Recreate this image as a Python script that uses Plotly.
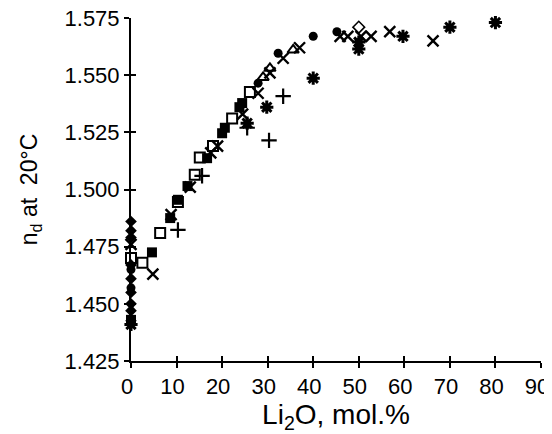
import plotly.graph_objects as go

# ---- data ----
circle_x = [0, 0, 27.9, 32.3, 40, 45.2]
circle_y = [1.465, 1.457, 1.5465, 1.5596, 1.567, 1.569]

fsq_x = [0, 4.6, 8.6, 10.3, 12.4, 16.7, 20.0, 20.6, 23.8, 24.4]
fsq_y = [1.443, 1.4725, 1.4875, 1.4955, 1.5015, 1.5137, 1.5246, 1.527, 1.536, 1.5378]

osq_x = [0, 2.5, 6.4, 10.3, 14.0, 15.1, 18.0, 22.2, 26.1]
osq_y = [1.470, 1.468, 1.481, 1.4945, 1.5065, 1.514, 1.519, 1.531, 1.5426]

x_x = [0, 4.8, 8.8, 13.0, 17.5, 19.0, 24.5, 27.9, 30.5, 33.4, 37.0, 45.9, 47.6, 50.5, 52.7, 56.8, 66.3]
x_y = [1.476, 1.463, 1.489, 1.501, 1.516, 1.519, 1.533, 1.5421, 1.551, 1.5574, 1.562, 1.567, 1.567,
       1.567, 1.567, 1.569, 1.565]

ast_x = [0, 25.5, 29.8, 40, 50, 50, 59.7, 70, 80]
ast_y = [1.441, 1.529, 1.536, 1.5487, 1.5614, 1.5645, 1.567, 1.571, 1.573]

plus_x = [10.3, 15.6, 25.5, 30.3, 33.4]
plus_y = [1.4823, 1.506, 1.527, 1.5215, 1.5408]

tri_x = [29.0, 30.5, 35.6]
tri_y = [1.549, 1.553, 1.561]

dia_x = [0, 0, 0, 0, 0, 0, 0, 0]
dia_y = [1.486, 1.482, 1.479, 1.467, 1.461, 1.455, 1.450, 1.447]

odia_x = [50]
odia_y = [1.571]

x_ticks = [0, 10, 20, 30, 40, 50, 60, 70, 80, 90]
y_ticks = [1.425, 1.450, 1.475, 1.500, 1.525, 1.550, 1.575]

FONT = "Liberation Sans, Arial, sans-serif"
TICK_SIZE = 22
fig = go.Figure()


def add(xs, ys, symbol, size, lw=0):
    fig.add_trace(go.Scatter(
        x=xs, y=ys, mode="markers", cliponaxis=False, showlegend=False,
        marker=dict(symbol=symbol, size=size, color="black",
                    line=dict(color="black", width=lw))))


add(dia_x, dia_y, "diamond", 9)
add(circle_x, circle_y, "circle", 9)
add(fsq_x, fsq_y, "square", 10)
add(osq_x, osq_y, "square-open", 10, 2)
add(x_x, x_y, "x-thin-open", 11, 2.4)
add(ast_x, ast_y, "asterisk-open", 11, 3)
add(ast_x, ast_y, "square", 6)
add(plus_x, plus_y, "cross-thin-open", 11, 2.2)
add(tri_x, tri_y, "triangle-up-open", 10, 2)
add(odia_x, odia_y, "diamond-open", 9, 1.6)

axis_common = dict(showline=True, linecolor="black", linewidth=2, showgrid=False,
                   zeroline=False, ticks="outside", ticklen=5, tickwidth=2,
                   tickcolor="black", ticklabeloverflow="allow",
                   tickfont=dict(family=FONT, size=TICK_SIZE, color="black"))

# the page body has an 8px default margin: the figure starts at (8, 8) in the window
fig.update_layout(
    width=552, height=434, autosize=False,
    margin=dict(l=123, r=19, t=10, b=81, autoexpand=False),
    paper_bgcolor="white", plot_bgcolor="white",
    font=dict(family=FONT, size=TICK_SIZE, color="black"),
    xaxis=dict(range=[0, 90], tickvals=x_ticks, ticktext=[str(v) for v in x_ticks],
               ticklabelshift=-4,
               title=dict(text="Li<sub>2</sub>O, mol.%", standoff=2,
                          font=dict(family=FONT, size=28, color="black")),
               **axis_common),
    yaxis=dict(range=[1.425, 1.575], tickvals=y_ticks,
               ticktext=[f"{v:.3f}" for v in y_ticks],
               title=dict(text="n<sub>d</sub> at  20°C", standoff=20,
                          font=dict(family=FONT, size=23, color="black")),
               **axis_common),
    xaxis2=dict(range=[0, 90], tickvals=x_ticks, overlaying="x", showticklabels=False,
                ticks="inside", ticklen=5, tickwidth=2, tickcolor="black",
                showgrid=False, zeroline=False, showline=False),
    yaxis2=dict(range=[1.425, 1.575], tickvals=y_ticks, overlaying="y", showticklabels=False,
                ticks="inside", ticklen=5, tickwidth=2, tickcolor="black",
                showgrid=False, zeroline=False, showline=False),
)
fig.add_trace(go.Scatter(x=[None], y=[None], xaxis="x2", yaxis="y2", showlegend=False))

fig.write_html("out.html")
